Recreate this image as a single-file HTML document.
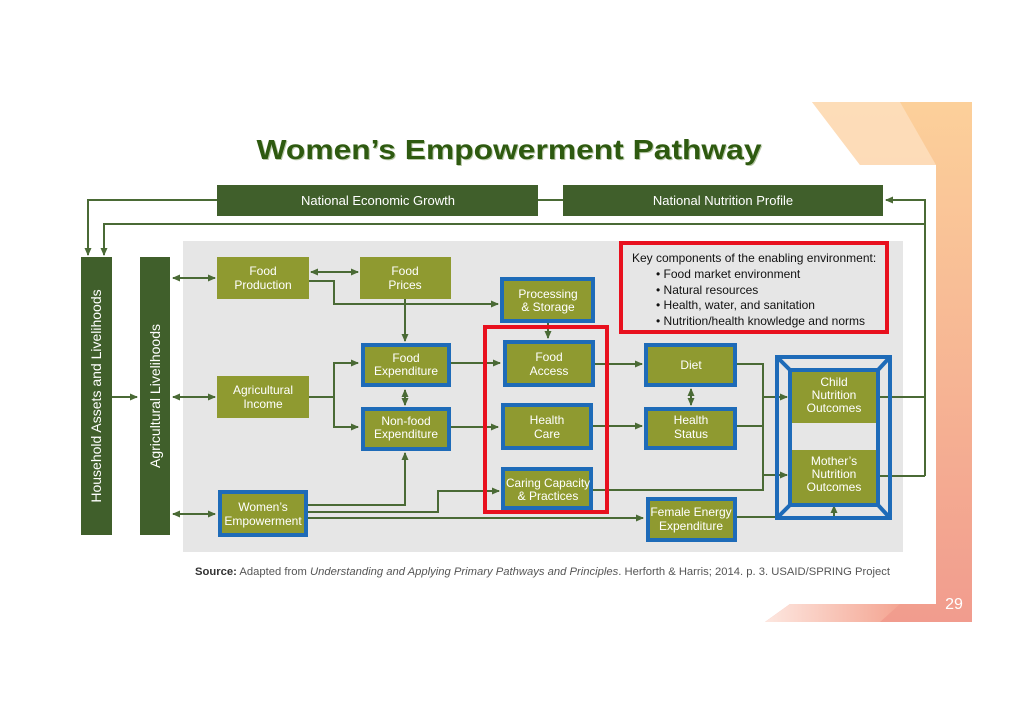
<!DOCTYPE html>
<html><head><meta charset="utf-8"><style>
html,body{margin:0;padding:0;background:#fff;}
svg{display:block;font-family:"Liberation Sans",sans-serif;}
</style></head><body>
<svg width="1024" height="724" viewBox="0 0 1024 724" xmlns="http://www.w3.org/2000/svg">
<defs>
<linearGradient id="og" x1="0" y1="0" x2="0" y2="1">
<stop offset="0" stop-color="#fcd09a"/><stop offset="1" stop-color="#f19c8e"/>
</linearGradient>
<linearGradient id="og2" x1="0" y1="0" x2="1" y2="0">
<stop offset="0" stop-color="#fde7e0"/><stop offset="1" stop-color="#f4a592"/>
</linearGradient>
<marker id="a" markerWidth="8" markerHeight="8" refX="7" refY="4" orient="auto" markerUnits="userSpaceOnUse">
<path d="M0,0.5 L8,4 L0,7.5 z" fill="#4a6a35"/></marker>
<marker id="s" markerWidth="8" markerHeight="8" refX="1" refY="4" orient="auto" markerUnits="userSpaceOnUse">
<path d="M8,0.5 L0,4 L8,7.5 z" fill="#4a6a35"/></marker>
</defs>
<polygon points="812,102 972,102 972,622 765,622 790,604 936,604 936,165 860,165" fill="url(#og)"/>
<polygon points="812,102 900,102 936,165 860,165" fill="#fde3c4" opacity="0.7"/>
<polygon points="765,622 880,622 900,604 790,604" fill="url(#og2)"/>
<text x="954" y="609" font-size="16" fill="#fff" text-anchor="middle">29</text>
<text x="509" y="159" font-size="28" font-weight="bold" fill="#b8c8a8" text-anchor="middle" textLength="505" lengthAdjust="spacingAndGlyphs" transform="translate(1,1)">Women’s Empowerment Pathway</text>
<text x="509" y="159" font-size="28" font-weight="bold" fill="#2e5a10" text-anchor="middle" textLength="505" lengthAdjust="spacingAndGlyphs">Women’s Empowerment Pathway</text>
<rect x="183" y="241" width="720" height="311" fill="#e6e6e6"/>
<g fill="#405f2b">
<rect x="217" y="185" width="321" height="31"/>
<rect x="563" y="185" width="320" height="31"/>
<rect x="81" y="257" width="31" height="278"/>
<rect x="140" y="257" width="30" height="278"/>
</g>
<g fill="#fff" font-size="13" text-anchor="middle">
<text x="378" y="205">National Economic Growth</text>
<text x="723" y="205">National Nutrition Profile</text>
<text transform="translate(101,396) rotate(-90)" font-size="14">Household Assets and Livelihoods</text>
<text transform="translate(160,396) rotate(-90)" font-size="14">Agricultural Livelihoods</text>
</g>
<g stroke="#4a6a35" stroke-width="2" fill="none">
<path d="M217,200 H88 V255" marker-end="url(#a)"/>
<path d="M538,200 H563"/>
<path d="M925,224 H104 V255" marker-end="url(#a)"/>
<path d="M925,476 V200 H886" marker-end="url(#a)"/>
<path d="M112,397 H137" marker-end="url(#a)"/>
<path d="M173,278 H215" marker-start="url(#s)" marker-end="url(#a)"/>
<path d="M173,397 H215" marker-start="url(#s)" marker-end="url(#a)"/>
<path d="M173,514 H215" marker-start="url(#s)" marker-end="url(#a)"/>
<path d="M311,272 H358" marker-start="url(#s)" marker-end="url(#a)"/>
<path d="M309,281 H334 V304 H498" marker-end="url(#a)"/>
<path d="M405,299 V341" marker-end="url(#a)"/>
<path d="M309,397 H334 V363 H358" marker-end="url(#a)"/>
<path d="M334,397 V427 H358" marker-end="url(#a)"/>
<path d="M405,390 V405" marker-start="url(#s)" marker-end="url(#a)"/>
<path d="M307,505 H405 V453" marker-end="url(#a)"/>
<path d="M307,512 H438 V491 H499" marker-end="url(#a)"/>
<path d="M307,518 H643" marker-end="url(#a)"/>
<path d="M450,363 H500" marker-end="url(#a)"/>
<path d="M450,427 H498" marker-end="url(#a)"/>
<path d="M548,323 V338" marker-end="url(#a)"/>
<path d="M595,364 H642" marker-end="url(#a)"/>
<path d="M593,426 H642" marker-end="url(#a)"/>
<path d="M691,389 V405" marker-start="url(#s)" marker-end="url(#a)"/>
<path d="M737,364 H763 V490 H593"/>
<path d="M737,426 H763"/>
<path d="M763,397 H787" marker-end="url(#a)"/>
<path d="M763,475 H787" marker-end="url(#a)"/>
<path d="M879,397 H925"/>
<path d="M879,476 H925"/>
<path d="M737,517 H834 V506" marker-end="url(#a)"/>
</g>
<g fill="#8f9a30">
<rect x="217" y="257" width="92" height="42"/>
<rect x="360" y="257" width="91" height="42"/>
<rect x="217" y="376" width="92" height="42"/>
</g>
<g fill="#8f9a30" stroke="#1e6bb8" stroke-width="4">
<rect x="220" y="492" width="86" height="43"/>
<rect x="363" y="345" width="86" height="40"/>
<rect x="363" y="409" width="86" height="40"/>
<rect x="502" y="279" width="91" height="42"/>
<rect x="505" y="342" width="88" height="43"/>
<rect x="503" y="405" width="88" height="43"/>
<rect x="503" y="469" width="88" height="39"/>
<rect x="646" y="345" width="89" height="40"/>
<rect x="646" y="409" width="89" height="39"/>
<rect x="648" y="499" width="87" height="41"/>
</g>
<g stroke="#1e6bb8" stroke-width="4" fill="none">
<rect x="777" y="357" width="113" height="161"/>
<rect x="790" y="370" width="88" height="135" fill="#e6e6e6"/>
<path d="M777,357 L790,370 M890,357 L878,370 M777,518 L790,505 M890,518 L878,505"/>
</g>
<rect x="792" y="372" width="84" height="51" fill="#8f9a30"/>
<rect x="792" y="450" width="84" height="53" fill="#8f9a30"/>
<rect x="485" y="327" width="122" height="185" fill="none" stroke="#e8101e" stroke-width="4"/>
<rect x="621" y="243" width="266" height="89" fill="#e6e6e6" stroke="#e8101e" stroke-width="4"/>
<g font-size="12" fill="#111">
<text x="632" y="262">Key components of the enabling environment:</text>
<text x="656" y="278">• Food market environment</text>
<text x="656" y="294">• Natural resources</text>
<text x="656" y="309">• Health, water, and sanitation</text>
<text x="656" y="325">• Nutrition/health knowledge and norms</text>
</g>
<g fill="#fff" font-size="12" text-anchor="middle">
<text x="263" y="275">Food</text><text x="263" y="289">Production</text>
<text x="405" y="275">Food</text><text x="405" y="289">Prices</text>
<text x="263" y="394">Agricultural</text><text x="263" y="408">Income</text>
<text x="263" y="511">Women’s</text><text x="263" y="525">Empowerment</text>
<text x="406" y="362">Food</text><text x="406" y="375">Expenditure</text>
<text x="406" y="425">Non-food</text><text x="406" y="438">Expenditure</text>
<text x="548" y="298">Processing</text><text x="548" y="311">&amp; Storage</text>
<text x="549" y="361">Food</text><text x="549" y="375">Access</text>
<text x="547" y="424">Health</text><text x="547" y="438">Care</text>
<text x="548" y="487" textLength="84" lengthAdjust="spacingAndGlyphs">Caring Capacity</text><text x="548" y="500">&amp; Practices</text>
<text x="691" y="369">Diet</text>
<text x="691" y="424">Health</text><text x="691" y="438">Status</text>
<text x="691" y="516">Female Energy</text><text x="691" y="530">Expenditure</text>
<text x="834" y="386">Child</text><text x="834" y="399">Nutrition</text><text x="834" y="412">Outcomes</text>
<text x="834" y="465">Mother’s</text><text x="834" y="478">Nutrition</text><text x="834" y="491">Outcomes</text>
</g>
<text x="195" y="575" font-size="11" fill="#555" textLength="695" lengthAdjust="spacingAndGlyphs"><tspan font-weight="bold" fill="#333">Source:</tspan> Adapted from <tspan font-style="italic">Understanding and Applying Primary Pathways and Principles</tspan>. Herforth &amp; Harris; 2014. p. 3. USAID/SPRING Project</text>
</svg>
</body></html>
